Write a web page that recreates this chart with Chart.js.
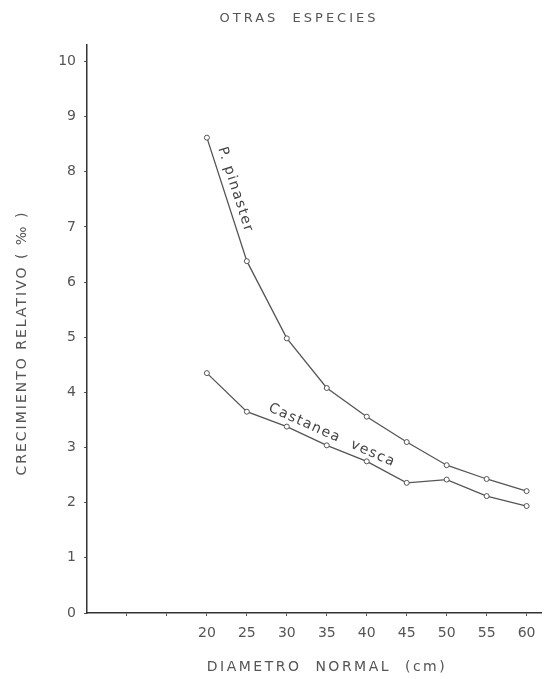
<!DOCTYPE html>
<html lang="es">
<head>
  <meta charset="UTF-8">
  <title>Otras especies</title>
  <script src="https://cdn.jsdelivr.net/npm/chart.js"></script>
  <style>
    body {
      margin: 0;
      background: #fff;
    }
    #wrap {
      width: 546px;
      height: 679px;
    }
  </style>
</head>
<body>
  <div id="wrap">
    <canvas id="chart" width="546" height="679"></canvas>
  </div>

  <script>
    const diametros = [20, 25, 30, 35, 40, 45, 50, 55, 60];
    const pinaster = [8.62, 6.38, 4.98, 4.08, 3.56, 3.1, 2.68, 2.43, 2.21];
    const castanea = [4.35, 3.65, 3.38, 3.04, 2.75, 2.36, 2.42, 2.12, 1.94];
    const xTicks = [10, 15, 20, 25, 30, 35, 40, 45, 50, 55, 60];
    const yTicks = [0, 1, 2, 3, 4, 5, 6, 7, 8, 9, 10];

    const ink = '#555';
    const font = '"DejaVu Sans", sans-serif';

    function toPoints(values) {
      return diametros.map((d, i) => ({ x: d, y: values[i] }));
    }

    // text placed along a segment between two data points
    function drawAlong(chart, values, i0, i1, t, offset, text) {
      const xs = chart.scales.x, ys = chart.scales.y;
      const x0 = xs.getPixelForValue(diametros[i0]), y0 = ys.getPixelForValue(values[i0]);
      const x1 = xs.getPixelForValue(diametros[i1]), y1 = ys.getPixelForValue(values[i1]);
      const ang = Math.atan2(y1 - y0, x1 - x0);
      const cx = x0 + (x1 - x0) * t, cy = y0 + (y1 - y0) * t;
      const ctx = chart.ctx;
      ctx.save();
      ctx.translate(cx + Math.sin(ang) * offset, cy - Math.cos(ang) * offset);
      ctx.rotate(ang);
      ctx.letterSpacing = '1.5px';
      ctx.font = '14px ' + font;
      ctx.fillStyle = '#444';
      ctx.textAlign = 'center';
      ctx.textBaseline = 'middle';
      ctx.fillText(text, 0, 0);
      ctx.restore();
    }

    const labelsPlugin = {
      id: 'labels',
      afterDraw(chart) {
        const ctx = chart.ctx;
        ctx.save();
        ctx.fillStyle = ink;
        ctx.textAlign = 'center';
        ctx.textBaseline = 'middle';

        ctx.letterSpacing = '3px';
        ctx.font = '13px ' + font;
        ctx.fillText('OTRAS  ESPECIES', 299, 19);

        ctx.letterSpacing = '2.5px';
        ctx.font = '14px ' + font;
        ctx.fillText('DIAMETRO  NORMAL  (cm)', 327, 667);

        ctx.letterSpacing = '2px';
        ctx.translate(22, 343);
        ctx.rotate(-Math.PI / 2);
        ctx.fillText('CRECIMIENTO RELATIVO ( ‰ )', 0, 0);
        ctx.restore();

        drawAlong(chart, pinaster, 0, 1, 0.45, 11, 'P. pinaster');
        drawAlong(chart, castanea, 1, 5, 0.5, 13, 'Castanea  vesca');
      }
    };

    new Chart(document.getElementById('chart'), {
      type: 'line',
      data: {
        datasets: [
          {
            label: 'P. pinaster',
            data: toPoints(pinaster),
            borderColor: ink,
            borderWidth: 1.3,
            pointRadius: 2.5,
            pointBorderWidth: 1,
            pointBackgroundColor: '#fff',
            pointBorderColor: ink,
            tension: 0
          },
          {
            label: 'Castanea vesca',
            data: toPoints(castanea),
            borderColor: ink,
            borderWidth: 1.3,
            pointRadius: 2.5,
            pointBorderWidth: 1,
            pointBackgroundColor: '#fff',
            pointBorderColor: ink,
            tension: 0
          }
        ]
      },
      options: {
        responsive: false,
        animation: false,
        layout: { padding: { top: 45, right: 3, left: 0, bottom: 0 } },
        plugins: {
          legend: { display: false },
          tooltip: { enabled: false }
        },
        scales: {
          x: {
            type: 'linear',
            min: 5,
            max: 61.8,
            afterBuildTicks: scale => { scale.ticks = xTicks.map(v => ({ value: v })); },
            afterFit: scale => { scale.height = 66; },
            ticks: {
              color: ink,
              font: { family: font, size: 14 },
              padding: 9,
              autoSkip: false,
              maxRotation: 0,
              callback: v => (v >= 20 ? String(v) : '')
            },
            grid: { drawOnChartArea: false, tickLength: 3, color: ink },
            border: { color: '#333', width: 1.5 }
          },
          y: {
            min: 0,
            max: 10.3,
            afterBuildTicks: scale => { scale.ticks = yTicks.map(v => ({ value: v })); },
            afterFit: scale => { scale.width = 87; },
            ticks: {
              color: ink,
              font: { family: font, size: 14 },
              padding: 8
            },
            grid: { drawOnChartArea: false, tickLength: 3, color: ink },
            border: { color: '#333', width: 1.5 }
          }
        }
      },
      plugins: [labelsPlugin]
    });
  </script>
</body>
</html>
